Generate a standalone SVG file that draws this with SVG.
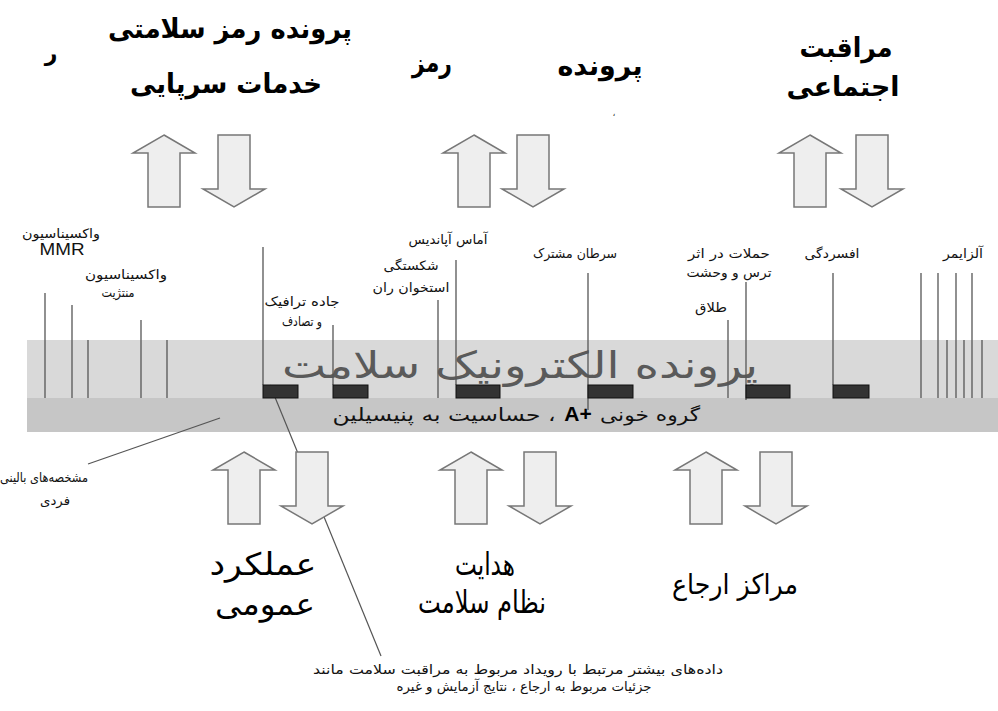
<svg xmlns="http://www.w3.org/2000/svg" xmlns:xlink="http://www.w3.org/1999/xlink" width="998" height="711" viewBox="0 0 998 711">
<style>
text{font-family:"DejaVu Sans","Noto Sans",sans-serif;fill:#000}
.t{font-weight:bold;font-size:27px}
.b{font-size:31px}
.l{font-size:13px;fill:#111}
.big{font-size:37px;fill:#5a5a5a}
.band{font-size:18px;fill:#111}
.arr{fill:#eeeeee;stroke:#777;stroke-width:1.5}
.v{stroke:#555;stroke-width:1.3}
.box{fill:#333;stroke:#111;stroke-width:1}
.ptr{stroke:#555;stroke-width:1.2;fill:none}
</style>
<defs>
<path id="up" class="arr" d="M31,0 L62,18 L47,18 L47,72 L15,72 L15,18 L0,18 Z"/>
<path id="down" class="arr" d="M15,0 L47,0 L47,54 L62,54 L31,72 L0,54 L15,54 Z"/>
</defs>
<rect width="998" height="711" fill="#fff"/>

<g id="band">
<rect x="27" y="340" width="971" height="58" fill="#d9d9d9"/>
<rect x="27" y="398" width="971" height="34" fill="#c6c6c6"/>
<text class="big" x="520" y="378" text-anchor="middle" direction="rtl" textLength="476" lengthAdjust="spacingAndGlyphs">پرونده الکترونیک سلامت</text>
<text class="band" x="650" y="421" text-anchor="middle" direction="rtl" textLength="100" lengthAdjust="spacingAndGlyphs">گروه خونی</text>
<text x="578" y="421" text-anchor="middle" style="font-family:'Liberation Sans',Arial,sans-serif;font-weight:bold;font-size:21px">A+</text>
<text class="band" x="444" y="421" text-anchor="middle" direction="rtl" textLength="223" lengthAdjust="spacingAndGlyphs">، حساسیت به پنیسیلین</text>
</g>

<g id="connectors">
<line class="v" x1="45" y1="293" x2="45" y2="398"/>
<line class="v" x1="72" y1="305" x2="72" y2="398"/>
<line class="v" x1="88" y1="340" x2="88" y2="398"/>
<line class="v" x1="141" y1="320" x2="141" y2="398"/>
<line class="v" x1="167" y1="340" x2="167" y2="398"/>
<line class="v" x1="263" y1="247" x2="263" y2="385"/>
<line class="v" x1="333" y1="325" x2="333" y2="385"/>
<line class="v" x1="438" y1="300" x2="438" y2="398"/>
<line class="v" x1="456" y1="260" x2="456" y2="385"/>
<line class="v" x1="588" y1="273" x2="588" y2="410"/>
<line class="v" x1="728" y1="320" x2="728" y2="398"/>
<line class="v" x1="746" y1="282" x2="746" y2="400"/>
<line class="v" x1="833" y1="273" x2="833" y2="385"/>
<line class="v" x1="921" y1="273" x2="921" y2="398"/>
<line class="v" x1="938" y1="273" x2="938" y2="398"/>
<line class="v" x1="947" y1="340" x2="947" y2="398"/>
<line class="v" x1="956" y1="273" x2="956" y2="398"/>
<line class="v" x1="964" y1="340" x2="964" y2="398"/>
<line class="v" x1="972" y1="273" x2="972" y2="398"/>
<line class="v" x1="982" y1="340" x2="982" y2="398"/>
<line class="ptr" x1="220" y1="418" x2="88" y2="464"/>
<line class="ptr" x1="270" y1="385" x2="381" y2="656"/>
</g>

<g id="events">
<rect class="box" x="263" y="385" width="35" height="13"/>
<rect class="box" x="333" y="385" width="35" height="13"/>
<rect class="box" x="456" y="385" width="44" height="13"/>
<rect class="box" x="588" y="385" width="45" height="13"/>
<rect class="box" x="746" y="385" width="44" height="13"/>
<rect class="box" x="833" y="385" width="36" height="13"/>
</g>

<g id="labels">
<text class="l" x="61" y="238" text-anchor="middle" direction="rtl" textLength="78" lengthAdjust="spacingAndGlyphs">واکسیناسیون</text>
<text x="62" y="255" text-anchor="middle" textLength="45" lengthAdjust="spacingAndGlyphs" style="font-family:'Liberation Sans',Arial,sans-serif;font-size:16px;fill:#111">MMR</text>
<text class="l" x="126" y="279" text-anchor="middle" direction="rtl" textLength="82" lengthAdjust="spacingAndGlyphs">واکسیناسیون</text>
<text class="l" x="118" y="297" text-anchor="middle" direction="rtl" textLength="33" lengthAdjust="spacingAndGlyphs">منتژیت</text>
<text class="l" x="302" y="306" text-anchor="middle" direction="rtl" textLength="75" lengthAdjust="spacingAndGlyphs">جاده ترافیک</text>
<text class="l" x="302" y="326" text-anchor="middle" direction="rtl" textLength="40" lengthAdjust="spacingAndGlyphs">و تصادف</text>
<text class="l" x="448" y="244" text-anchor="middle" direction="rtl" textLength="79" lengthAdjust="spacingAndGlyphs">آماس آپاندیس</text>
<text class="l" x="411" y="270" text-anchor="middle" direction="rtl" textLength="55" lengthAdjust="spacingAndGlyphs">شکستگی</text>
<text class="l" x="411" y="292" text-anchor="middle" direction="rtl" textLength="77" lengthAdjust="spacingAndGlyphs">استخوان ران</text>
<text class="l" x="575" y="258" text-anchor="middle" direction="rtl" textLength="84" lengthAdjust="spacingAndGlyphs">سرطان مشترک</text>
<text class="l" x="729" y="258" text-anchor="middle" direction="rtl" textLength="82" lengthAdjust="spacingAndGlyphs">حملات در اثر</text>
<text class="l" x="729" y="277" text-anchor="middle" direction="rtl" textLength="85" lengthAdjust="spacingAndGlyphs">ترس و وحشت</text>
<text class="l" x="711" y="312" text-anchor="middle" direction="rtl" textLength="32" lengthAdjust="spacingAndGlyphs">طلاق</text>
<text class="l" x="832" y="258" text-anchor="middle" direction="rtl" textLength="55" lengthAdjust="spacingAndGlyphs">افسردگی</text>
<text class="l" x="963" y="258" text-anchor="middle" direction="rtl" textLength="40" lengthAdjust="spacingAndGlyphs">آلزایمر</text>
<text class="l" x="44" y="482" text-anchor="middle" direction="rtl" textLength="88" lengthAdjust="spacingAndGlyphs">مشخصه‌های بالینی</text>
<text class="l" x="55" y="505" text-anchor="middle" direction="rtl" textLength="30" lengthAdjust="spacingAndGlyphs">فردی</text>
<text class="l" x="518" y="674" text-anchor="middle" direction="rtl" textLength="410" lengthAdjust="spacingAndGlyphs">داده‌های بیشتر مرتبط با رویداد مربوط به مراقبت سلامت مانند</text>
<text class="l" x="524" y="691" text-anchor="middle" direction="rtl" textLength="255" lengthAdjust="spacingAndGlyphs">جزئیات مربوط به ارجاع ، نتایج آزمایش و غیره</text>
</g>

<g id="top-left">
<text class="t" x="230" y="38" text-anchor="middle" direction="rtl" textLength="244" lengthAdjust="spacingAndGlyphs">پرونده رمز سلامتی</text>
<text class="t" x="226" y="93" text-anchor="middle" direction="rtl" textLength="192" lengthAdjust="spacingAndGlyphs">خدمات سرپایی</text>
<text class="t" x="51" y="61" text-anchor="middle" style="font-size:22px" direction="rtl">ر</text>
<use xlink:href="#up" x="133" y="135"/>
<use xlink:href="#down" x="203" y="135"/>
</g>
<g id="top-mid">
<text class="t" x="600" y="75" text-anchor="middle" direction="rtl" textLength="85" lengthAdjust="spacingAndGlyphs">پرونده</text>
<text class="t" x="432" y="72" text-anchor="middle" direction="rtl" textLength="40" lengthAdjust="spacingAndGlyphs">رمز</text>
<text x="614" y="116" text-anchor="middle" style="font-size:9px;fill:#333">،</text>
<use xlink:href="#up" x="443" y="135"/>
<use xlink:href="#down" x="502" y="135"/>
</g>
<g id="top-right">
<text class="t" x="846" y="57" text-anchor="middle" direction="rtl" textLength="93" lengthAdjust="spacingAndGlyphs">مراقبت</text>
<text class="t" x="843" y="96" text-anchor="middle" direction="rtl" textLength="113" lengthAdjust="spacingAndGlyphs">اجتماعی</text>
<use xlink:href="#up" x="779" y="135"/>
<use xlink:href="#down" x="841" y="135"/>
</g>

<g id="bottom-left">
<use xlink:href="#up" x="213" y="452"/>
<use xlink:href="#down" x="281" y="452"/>
<text class="b" x="263" y="575" text-anchor="middle" direction="rtl" textLength="107" lengthAdjust="spacingAndGlyphs">عملکرد</text>
<text class="b" x="265" y="615" text-anchor="middle" direction="rtl" textLength="100" lengthAdjust="spacingAndGlyphs">عمومی</text>
</g>
<g id="bottom-mid">
<use xlink:href="#up" x="440" y="452"/>
<use xlink:href="#down" x="509" y="452"/>
<text class="b" x="485" y="575" text-anchor="middle" direction="rtl" textLength="60" lengthAdjust="spacingAndGlyphs">هدایت</text>
<text class="b" x="482" y="613" text-anchor="middle" direction="rtl" textLength="128" lengthAdjust="spacingAndGlyphs">نظام سلامت</text>
</g>
<g id="bottom-right">
<use xlink:href="#up" x="675" y="452"/>
<use xlink:href="#down" x="745" y="452"/>
<text class="b" x="735" y="594" text-anchor="middle" direction="rtl" style="font-size:28px" textLength="126" lengthAdjust="spacingAndGlyphs">مراکز ارجاع</text>
</g>
</svg>
